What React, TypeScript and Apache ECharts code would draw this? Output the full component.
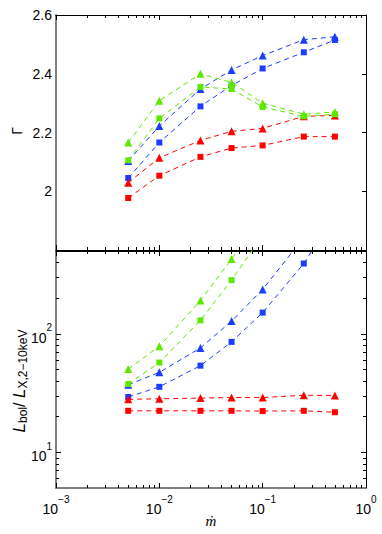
import React, { useEffect, useRef } from "react";
import * as echarts from "echarts";

// accretion rate (m-dot) sampled values
const mdot = [0.005, 0.01, 0.025, 0.05, 0.1, 0.25, 0.5];

// Top panel: photon index Gamma
const gammaRedSq = [1.977, 2.053, 2.117, 2.147, 2.156, 2.186, 2.186];
const gammaRedTri = [2.029, 2.114, 2.173, 2.204, 2.214, 2.255, 2.258];
const gammaBlueSq = [2.045, 2.166, 2.289, 2.36, 2.418, 2.473, 2.515];
const gammaBlueTri = [2.103, 2.222, 2.348, 2.413, 2.462, 2.516, 2.526];
const gammaGreenSq = [2.105, 2.248, 2.355, 2.348, 2.287, 2.255, 2.262];
const gammaGreenTri = [2.166, 2.308, 2.4, 2.37, 2.3, 2.262, 2.27];

// Bottom panel: bolometric correction L_bol / L_X,2-10keV
const bcRedSq = [22.4, 22.4, 22.4, 22.4, 22.3, 22.4, 21.8];
const bcRedTri = [28.0, 28.3, 28.7, 29.0, 29.0, 30.3, 30.2];
const bcBlueSq = [29.3, 35.7, 53.9, 85.5, 151, 392, 1000];
const bcBlueTri = [37.2, 47.3, 76, 128, 237, 650, 1600];
const bcGreenSq = [37.7, 57.2, 130, 284, 680, 2000, 4000];
const bcGreenTri = [50.5, 78.5, 191, 427, 1000, 3000, 6000];

// tick values
const xMajorTicks = [0.001, 0.01, 0.1, 1];
const xDecades = [0.001, 0.01, 0.1];
const minorMultipliers = [2, 3, 4, 5, 6, 7, 8, 9];
const gammaTickLabels = [2, 2.2, 2.4, 2.6];
const gammaRightTicks = [2, 2.2, 2.4];
const bcMajorTicks = [10, 100];
const bcMinorTicks = [6, 7, 8, 9, 20, 30, 40, 50, 60, 70, 80, 90, 200, 300, 400];

const RED = "#ff0000";
const BLUE = "#1c3cff";
const GREEN = "#5ee800";
const GRAY = "#808080";
const FONT = "Liberation Sans";

const xMinorTicks: number[] = [];
xDecades.forEach((d) => minorMultipliers.forEach((m) => xMinorTicks.push(+(d * m).toPrecision(3))));

const supRich = {
  b: { fontSize: 14, fontFamily: FONT, color: "#000", lineHeight: 22, verticalAlign: "bottom" },
  s: { fontSize: 10, fontFamily: FONT, color: "#000", lineHeight: 8, verticalAlign: "top" },
};

function powLabel(v: number) {
  const e = Math.round(Math.log10(v));
  const es = e < 0 ? "\u2212" + -e : String(e);
  return `{b|10}{s|${es}}`;
}

function xAx(grid: number, position: string, major: boolean, line: any, labels = false): any {
  return {
    type: "log",
    gridIndex: grid,
    position,
    min: 0.001,
    max: 1,
    logBase: 10,
    axisLine: line ? { show: true, onZero: false, lineStyle: line } : { show: false },
    axisTick: {
      show: true,
      inside: true,
      length: major ? 5 : 3,
      customValues: major ? xMajorTicks : xMinorTicks,
      lineStyle: { color: "#000", width: 1 },
    },
    minorTick: { show: false },
    splitLine: { show: false },
    axisLabel: labels
      ? {
          show: true,
          customValues: xMajorTicks,
          formatter: powLabel,
          rich: supRich,
          margin: 6,
          showMinLabel: true,
          showMaxLabel: true,
          hideOverlap: false,
        }
      : { show: false },
  };
}

function yLogAx(position: string, major: boolean, line: any, labels = false): any {
  return {
    type: "log",
    gridIndex: 1,
    position,
    min: 5,
    max: 500,
    logBase: 10,
    axisLine: line ? { show: true, onZero: false, lineStyle: line } : { show: false },
    axisTick: {
      show: true,
      inside: true,
      length: major ? 5 : 3,
      customValues: major ? bcMajorTicks : bcMinorTicks,
      lineStyle: { color: "#000", width: 1 },
    },
    splitLine: { show: false },
    axisLabel: labels
      ? {
          show: true,
          customValues: bcMajorTicks,
          formatter: powLabel,
          rich: supRich,
          margin: 4,
          showMinLabel: true,
          showMaxLabel: true,
        }
      : { show: false },
  };
}

function mkSeries(xi: number, yi: number, vals: number[], color: string, tri: boolean, z: number): any {
  return {
    type: "line",
    xAxisIndex: xi,
    yAxisIndex: yi,
    data: mdot.map((x, i) => [x, vals[i]]),
    symbol: tri ? "triangle" : "rect",
    symbolSize: tri ? 8 : 6,
    showSymbol: true,
    clip: true,
    silent: true,
    z,
    itemStyle: { color, borderWidth: 0 },
    lineStyle: { color, width: 1, type: [5, 4] },
    emphasis: { disabled: true },
  };
}

export default function App() {
  const ref = useRef<HTMLDivElement>(null);
  useEffect(() => {
    if (!ref.current) return;
    const chart = echarts.init(ref.current, undefined, { renderer: "svg" });
    const black = { color: "#000", width: 1 };
    const gray = { color: GRAY, width: 2 };
    const option: any = {
      animation: false,
      backgroundColor: "#fff",
      grid: [
        { left: 56, top: 15, width: 310, height: 235 },
        { left: 56, top: 251, width: 310, height: 237 },
      ],
      xAxis: [
        xAx(0, "bottom", true, black),
        xAx(0, "bottom", false, null),
        xAx(0, "top", true, black),
        xAx(0, "top", false, null),
        xAx(1, "bottom", true, gray, true),
        xAx(1, "bottom", false, null),
        xAx(1, "top", true, black),
        xAx(1, "top", false, null),
      ],
      yAxis: [
        {
          type: "value",
          gridIndex: 0,
          position: "left",
          min: 1.8,
          max: 2.6,
          interval: 0.2,
          axisLine: { show: true, onZero: false, lineStyle: gray },
          axisTick: { show: false },
          splitLine: { show: false },
          axisLabel: {
            show: true,
            customValues: gammaTickLabels,
            formatter: (v: number) => String(+v.toFixed(1)),
            fontSize: 14,
            fontFamily: FONT,
            color: "#000",
            margin: 4,
            showMinLabel: true,
            showMaxLabel: true,
          },
        },
        {
          type: "value",
          gridIndex: 0,
          position: "right",
          min: 1.8,
          max: 2.6,
          interval: 0.2,
          axisLine: { show: true, onZero: false, lineStyle: black },
          axisTick: {
            show: true,
            inside: true,
            length: 4,
            customValues: gammaRightTicks,
            lineStyle: { color: "#000", width: 1 },
          },
          splitLine: { show: false },
          axisLabel: { show: false },
        },
        yLogAx("left", true, gray, true),
        yLogAx("left", false, null),
        yLogAx("right", true, black),
        yLogAx("right", false, null),
      ],
      series: [
        mkSeries(0, 0, gammaBlueSq, BLUE, false, 2),
        mkSeries(0, 0, gammaBlueTri, BLUE, true, 3),
        mkSeries(0, 0, gammaRedSq, RED, false, 4),
        mkSeries(0, 0, gammaRedTri, RED, true, 5),
        mkSeries(0, 0, gammaGreenSq, GREEN, false, 6),
        mkSeries(0, 0, gammaGreenTri, GREEN, true, 7),
        mkSeries(4, 2, bcBlueSq, BLUE, false, 2),
        mkSeries(4, 2, bcBlueTri, BLUE, true, 3),
        mkSeries(4, 2, bcRedSq, RED, false, 4),
        mkSeries(4, 2, bcRedTri, RED, true, 5),
        mkSeries(4, 2, bcGreenSq, GREEN, false, 6),
        mkSeries(4, 2, bcGreenTri, GREEN, true, 7),
      ],
      graphic: [
        {
          type: "text",
          x: 17,
          y: 131,
          rotation: Math.PI / 2,
          style: {
            text: "\u0393",
            fontSize: 14,
            fontFamily: FONT,
            fill: "#000",
            align: "center",
            verticalAlign: "middle",
          },
        },
        {
          type: "text",
          x: 20,
          y: 381,
          rotation: Math.PI / 2,
          style: {
            text: "{L|L}{sub|bol}{n|/ }{L|L}{sub|X,2\u221210keV}",
            fill: "#000",
            align: "center",
            verticalAlign: "middle",
            rich: {
              L: { fontSize: 17, fontStyle: "italic", fontFamily: FONT, fill: "#000", lineHeight: 18, verticalAlign: "top" },
              n: { fontSize: 16, fontFamily: FONT, fill: "#000", lineHeight: 18, verticalAlign: "top" },
              sub: { fontSize: 12, fontFamily: FONT, fill: "#000", lineHeight: 12, padding: [9, 0, 0, 0], verticalAlign: "bottom" },
            },
          },
        },
        {
          type: "text",
          x: 211,
          y: 521,
          style: {
            text: "\u1E41",
            fontSize: 15,
            fontStyle: "italic",
            fontFamily: "Liberation Serif",
            fill: "#000",
            align: "center",
            verticalAlign: "middle",
          },
        },
      ],
    };
    chart.setOption(option);
    return () => chart.dispose();
  }, []);
  return (
    <div
      ref={ref}
      style={{ position: "fixed", left: 0, top: 0, width: 382, height: 534, background: "#fff" }}
    />
  );
}
